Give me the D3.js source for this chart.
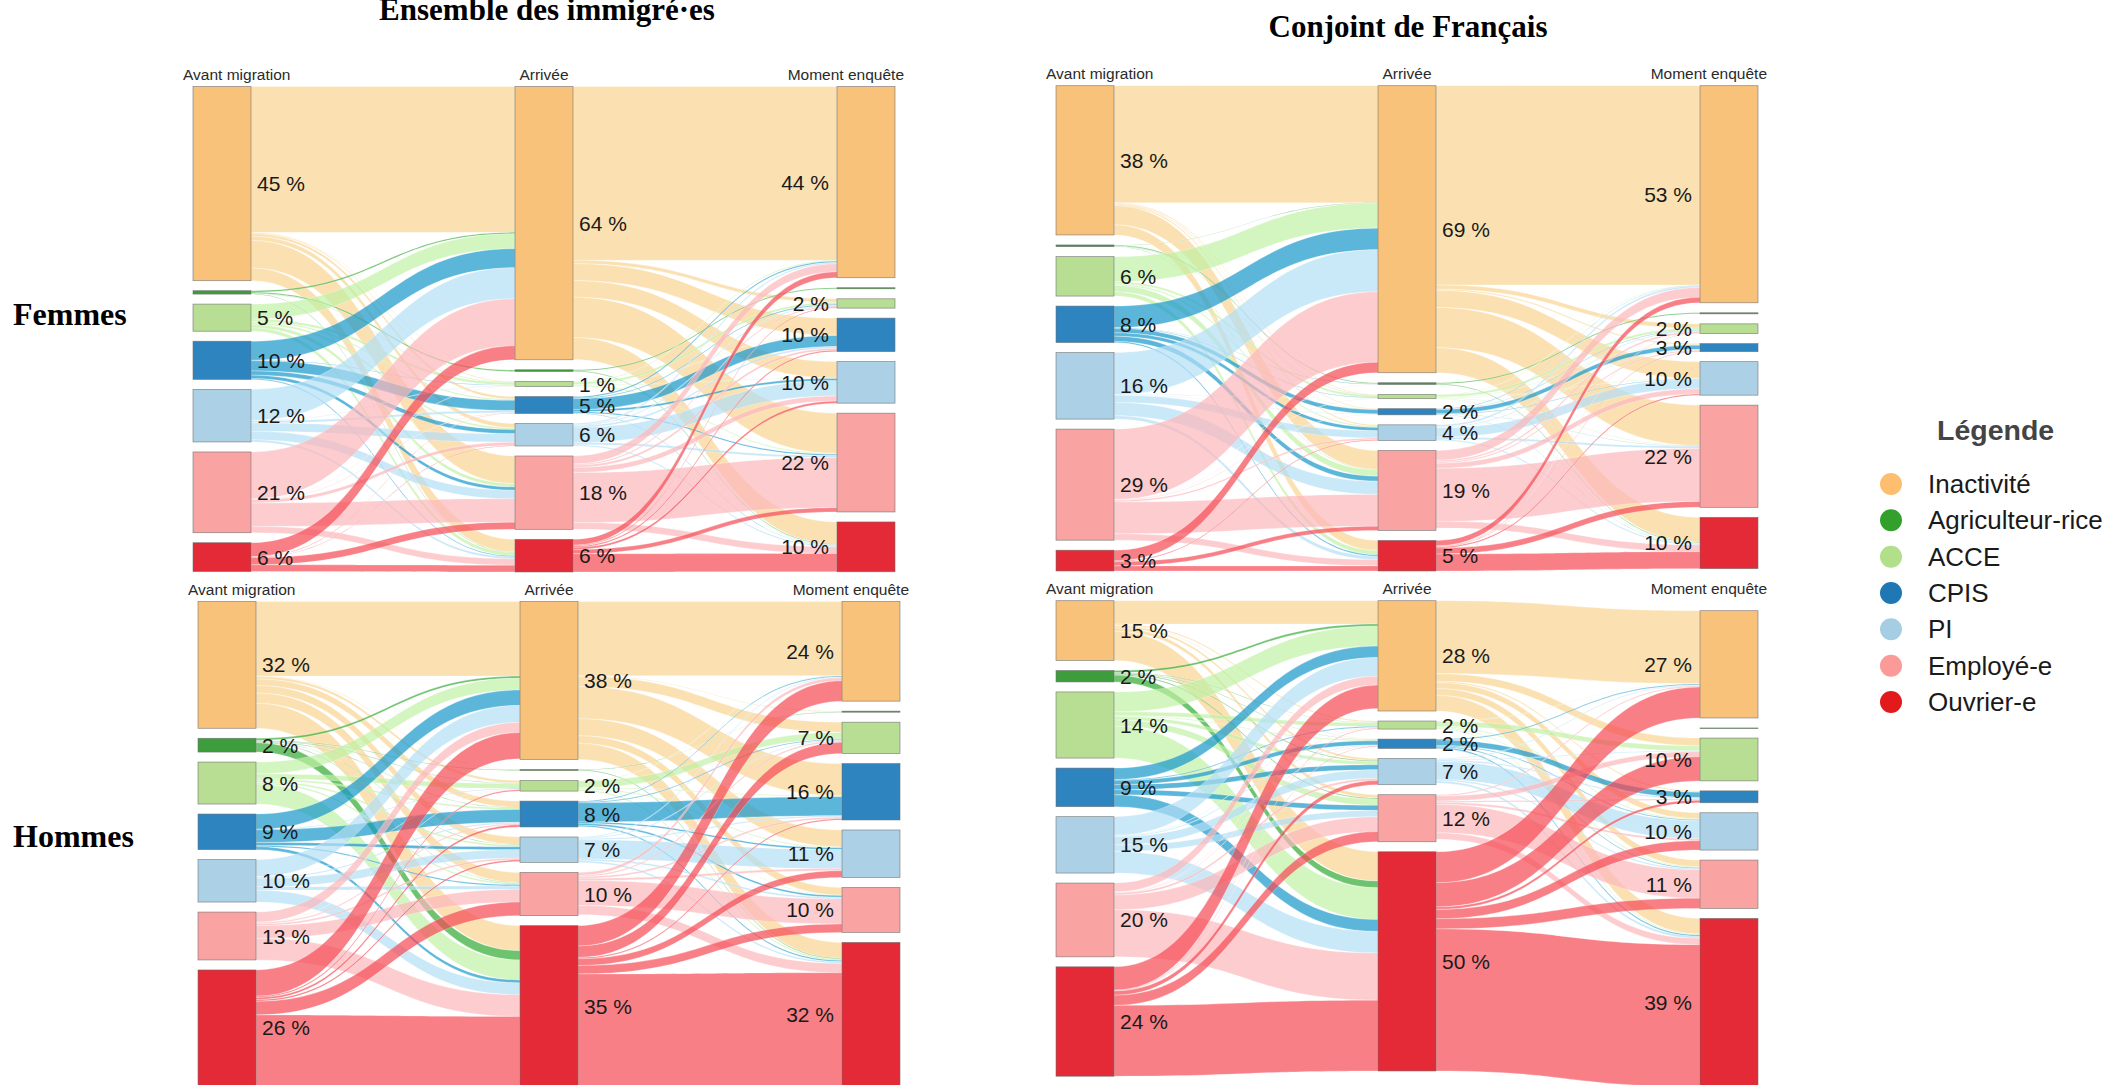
<!DOCTYPE html>
<html><head><meta charset="utf-8">
<script src="https://cdn.jsdelivr.net/npm/d3@7"></script>
<style>body{margin:0;background:#fff;overflow:hidden} svg{display:block}</style>
</head><body>
<svg id="chart" width="2116" height="1085"></svg>
<script>
// ---------------- DATA ----------------
const categories = ["Inactivité","Agriculteur-rice","ACCE","CPIS","PI","Employé-e","Ouvrier-e"];
const stageNames = ["Avant migration","Arrivée","Moment enquête"];
const groupTitles = ["Ensemble des immigré·es","Conjoint de Français"];
const rowTitles = ["Femmes","Hommes"];
const legendTitle = "Légende";

// flows in % : rows = source category, columns = target category
const ensembleFemmesAvantArrivee = [
  [34.4, 0.1, 0.2, 0.6, 1.0, 6.5, 3.0],
  [0.35, 0.3, 0.05, 0, 0, 0, 0.1],
  [3.5, 0, 0.6, 0.3, 0.4, 0.8, 0.8],
  [4.5, 0, 0.1, 2.4, 1.0, 0.8, 0.2],
  [7.3, 0, 0.1, 0.5, 2.0, 2.0, 0.5],
  [11.1, 0, 0.05, 0.1, 0.8, 5.5, 1.5],
  [3.3, 0, 0, 0.1, 0.1, 1.7, 1.6]
];
const ensembleFemmesArriveeEnquete = [
  [41.0, 0, 0.8, 4.0, 3.9, 9.5, 5.2],
  [0, 0.25, 0, 0, 0, 0, 0.15],
  [0.2, 0, 0.5, 0.1, 0.1, 0.2, 0.1],
  [0.3, 0, 0.2, 2.6, 0.5, 0.3, 0.1],
  [0.3, 0, 0.2, 0.4, 3.6, 0.5, 0.3],
  [1.9, 0, 0.3, 0.5, 1.2, 11.8, 1.6],
  [1.4, 0, 0.2, 0.3, 0.5, 1.0, 4.3]
];
const ensembleFemmesLabels = [
  ["45 %","","5 %","10 %","12 %","21 %","6 %"],
  ["64 %","","1 %","5 %","6 %","18 %","6 %"],
  ["44 %","","2 %","10 %","10 %","22 %","10 %"]
];

const conjointFemmesAvantArrivee = [
  [27.6, 0.05, 0.2, 0.15, 0.3, 4.5, 2.4],
  [0.1, 0.2, 0.05, 0, 0, 0.05, 0],
  [5.9, 0, 0.5, 0.1, 0.3, 1.5, 1.0],
  [5.1, 0.1, 0.1, 1.0, 0.8, 1.2, 0.3],
  [9.9, 0, 0.1, 0.1, 1.7, 3.1, 0.8],
  [16.6, 0.05, 0.05, 0.1, 0.4, 7.5, 1.5],
  [2.5, 0, 0, 0, 0.2, 1.0, 1.2]
];
const conjointFemmesArriveeEnquete = [
  [47.0, 0, 1.0, 0.3, 4.0, 9.5, 5.9],
  [0, 0.25, 0, 0, 0, 0, 0.15],
  [0.1, 0, 0.5, 0.1, 0.1, 0.1, 0.1],
  [0.1, 0, 0.1, 1.0, 0.1, 0.1, 0.05],
  [0.4, 0, 0.2, 0.1, 2.2, 0.5, 0.3],
  [2.3, 0, 0.4, 0.3, 1.2, 12.5, 1.6],
  [1.3, 0, 0.1, 0.1, 0.3, 1.4, 4.0]
];
const conjointFemmesLabels = [
  ["38 %","","6 %","8 %","16 %","29 %","3 %"],
  ["69 %","","","2 %","4 %","19 %","5 %"],
  ["53 %","","2 %","3 %","10 %","22 %","10 %"]
];

const ensembleHommesAvantArrivee = [
  [17.6, 0.1, 0.6, 1.5, 1.8, 2.4, 5.9],
  [0.5, 0.15, 0.1, 0.1, 0.1, 0.1, 2.2],
  [2.8, 0, 1.2, 0.4, 0.4, 0.4, 4.7],
  [3.6, 0, 0.1, 3.0, 0.7, 0.3, 0.7],
  [4.0, 0, 0.1, 0.3, 2.0, 0.8, 2.8],
  [2.4, 0, 0.1, 0.3, 0.4, 3.0, 5.1],
  [6.2, 0, 0.3, 0.5, 0.4, 3.2, 16.7]
];
const ensembleHommesArriveeEnquete = [
  [17.5, 0.15, 2.4, 7.6, 4.0, 1.8, 3.8],
  [0, 0.1, 0, 0, 0, 0, 0.15],
  [0.1, 0, 1.6, 0.2, 0.2, 0.1, 0.3],
  [0.2, 0, 0.2, 4.5, 0.4, 0.4, 0.3],
  [0.2, 0, 0.2, 0.3, 4.5, 0.4, 0.4],
  [0.7, 0, 0.3, 0.4, 0.5, 5.9, 2.2],
  [4.8, 0, 2.7, 0.3, 1.6, 2.0, 26.7]
];
const ensembleHommesLabels = [
  ["32 %","2 %","8 %","9 %","10 %","13 %","26 %"],
  ["38 %","","2 %","8 %","7 %","10 %","35 %"],
  ["24 %","","7 %","16 %","11 %","10 %","32 %"]
];

const conjointHommesAvantArrivee = [
  [5.5, 0, 0.3, 0.1, 0.5, 0.8, 6.9],
  [0.5, 0, 0.1, 0.1, 0.2, 0.2, 1.6],
  [4.7, 0, 0.9, 0.2, 0.8, 1.5, 7.5],
  [2.7, 0, 0.2, 1.0, 1.2, 1.2, 2.8],
  [4.4, 0, 0.1, 0.2, 2.0, 1.5, 5.1],
  [2.1, 0, 0.1, 0.1, 0.5, 3.5, 11.1],
  [5.5, 0, 0.1, 0.1, 1.0, 2.4, 16.7]
];
const conjointHommesArriveeEnquete = [
  [17.2, 0.02, 1.8, 0.3, 1.4, 1.6, 3.7],
  [0, 0, 0, 0, 0, 0, 0],
  [0.1, 0, 1.2, 0, 0.2, 0.2, 0.2],
  [0.2, 0, 0, 1.3, 0.2, 0.2, 0.3],
  [0.2, 0, 0.2, 0.3, 4.3, 0.3, 0.5],
  [0.3, 0, 1.2, 0.3, 0.5, 6.7, 1.5],
  [7.3, 0, 5.7, 0.6, 2.2, 2.4, 33.5]
];
const conjointHommesLabels = [
  ["15 %","2 %","14 %","9 %","15 %","20 %","24 %"],
  ["28 %","","2 %","2 %","7 %","12 %","50 %"],
  ["27 %","","10 %","3 %","10 %","11 %","39 %"]
];

// ---------------- STYLE ----------------
const nodeColors = ["#f9c27b","#3d9d3d","#b8de94","#2e84bf","#acd1e6","#f9a3a3","#e32a36"];
const linkColors = ["rgb(249,212,146)","rgb(49,169,49)","rgb(192,241,164)","rgb(21,151,202)","rgb(178,222,245)","rgb(252,182,186)","rgb(245,72,82)"];
const legendColors = ["#fdbf6f","#33a02c","#b2df8a","#1f78b4","#a6cee3","#fb9a99","#e31a1c"];

const panels = [
  {flows:[ensembleFemmesAvantArrivee, ensembleFemmesArriveeEnquete], labels:ensembleFemmesLabels, x0:193, y0:86.5, offsets:[0,0,0]},
  {flows:[conjointFemmesAvantArrivee, conjointFemmesArriveeEnquete], labels:conjointFemmesLabels, x0:1056, y0:85.7, offsets:[0,0,0]},
  {flows:[ensembleHommesAvantArrivee, ensembleHommesArriveeEnquete], labels:ensembleHommesLabels, x0:198, y0:601.5, offsets:[0,0,0]},
  {flows:[conjointHommesAvantArrivee, conjointHommesArriveeEnquete], labels:conjointHommesLabels, x0:1056, y0:600.7, offsets:[0,0,10]}
];

const svg = d3.select("#chart");
const NODE_W = 58, PAD = 10, SPAN = 644;
const hScale = d3.scaleLinear().domain([0,100]).range([0,424]);
const sansFont = "'Liberation Sans', Arial, Helvetica, sans-serif";
const serifFont = "'Liberation Serif', 'Times New Roman', serif";

function linkArea(x0, y0a, y0b, x1, y1a, y1b) {
  const xm = (x0 + x1) / 2;
  const p = d3.path();
  p.moveTo(x0, y0a);
  p.bezierCurveTo(xm, y0a, xm, y1a, x1, y1a);
  p.lineTo(x1, y1b);
  p.bezierCurveTo(xm, y1b, xm, y0b, x0, y0b);
  p.closePath();
  return p.toString();
}

function drawPanel(cfg) {
  const g = svg.append("g");
  const xScale = d3.scaleLinear().domain([0,2]).range([cfg.x0, cfg.x0 + SPAN]);
  const n = categories.length;
  const nodes = [0,1,2].map(c => categories.map((name, i) => {
    const inSum = c > 0 ? d3.sum(cfg.flows[c-1], row => row[i]) : 0;
    const outSum = c < 2 ? d3.sum(cfg.flows[c][i]) : 0;
    return {c, i, value: Math.max(inSum, outSum)};
  }));
  nodes.forEach((col, c) => {
    let y = cfg.y0 + cfg.offsets[c];
    col.forEach(nd => {
      nd.x0 = xScale(c); nd.x1 = nd.x0 + NODE_W;
      if (nd.value > 0) {
        nd.y0 = y; nd.y1 = y + hScale(nd.value); y = nd.y1 + PAD;
      } else { nd.y0 = nd.y1 = y; nd.skip = true; }
    });
  });
  const links = [];
  [0,1].forEach(s => {
    const M = cfg.flows[s];
    const srcOff = nodes[s].map(nd => nd.y0);
    const tgtOff = nodes[s+1].map(nd => nd.y0);
    for (let i = 0; i < n; i++) {
      for (let j = 0; j < n; j++) {
        const v = M[i][j];
        if (v > 0) links.push({s, i, j, v});
      }
    }
    links.filter(l => l.s === s).sort((a,b)=> a.i - b.i || a.j - b.j).forEach(l => {
      l.sy0 = srcOff[l.i]; l.sy1 = l.sy0 + hScale(l.v); srcOff[l.i] = l.sy1;
    });
    links.filter(l => l.s === s).sort((a,b)=> a.j - b.j || a.i - b.i).forEach(l => {
      l.ty0 = tgtOff[l.j]; l.ty1 = l.ty0 + hScale(l.v); tgtOff[l.j] = l.ty1;
    });
  });
  g.append("g").selectAll("path").data(links).join("path")
    .attr("d", l => linkArea(nodes[l.s][l.i].x1, l.sy0, l.sy1, nodes[l.s+1][l.j].x0, l.ty0, l.ty1))
    .attr("fill", l => linkColors[l.i])
    .attr("fill-opacity", 0.7)
    .attr("stroke", "#fff")
    .attr("stroke-opacity", 0.55)
    .attr("stroke-width", 0.5);
  const allNodes = nodes.flat().filter(nd => !nd.skip);
  g.append("g").selectAll("rect").data(allNodes).join("rect")
    .attr("x", d => d.x0).attr("y", d => d.y0)
    .attr("width", NODE_W).attr("height", d => Math.max(0.6, d.y1 - d.y0))
    .attr("fill", d => nodeColors[d.i])
    .attr("stroke", "#6e6e6e").attr("stroke-opacity", 0.8).attr("stroke-width", 0.7);
  g.append("g").selectAll("text").data(allNodes.filter(d => cfg.labels[d.c][d.i]))
    .join("text")
    .attr("x", d => d.c < 2 ? d.x1 + 6 : d.x0 - 8)
    .attr("y", d => (d.y0 + d.y1) / 2)
    .attr("text-anchor", d => d.c < 2 ? "start" : "end")
    .attr("dominant-baseline", "central")
    .style("font-family", sansFont).style("font-size", "21px").attr("fill", "#1a1a1a")
    .text(d => cfg.labels[d.c][d.i]);
  const hy = cfg.y0 - 6.5;
  stageNames.forEach((name, c) => {
    const x = c === 0 ? xScale(0) - 10 : c === 1 ? xScale(1) + NODE_W / 2 : xScale(2) + NODE_W + 9;
    g.append("text").attr("x", x).attr("y", hy)
      .attr("text-anchor", c === 0 ? "start" : c === 1 ? "middle" : "end")
      .style("font-family", sansFont).style("font-size", "15.5px").attr("fill", "#2a2a2a")
      .text(name);
  });
}

panels.forEach(drawPanel);

// titles
svg.append("text").attr("x", 547).attr("y", 20).attr("text-anchor", "middle")
  .style("font-family", serifFont).style("font-weight", "bold").style("font-size", "31px")
  .text(groupTitles[0]);
svg.append("text").attr("x", 1408).attr("y", 37).attr("text-anchor", "middle")
  .style("font-family", serifFont).style("font-weight", "bold").style("font-size", "31px")
  .text(groupTitles[1]);
svg.append("text").attr("x", 13).attr("y", 325)
  .style("font-family", serifFont).style("font-weight", "bold").style("font-size", "32px")
  .text(rowTitles[0]);
svg.append("text").attr("x", 13).attr("y", 847)
  .style("font-family", serifFont).style("font-weight", "bold").style("font-size", "32px")
  .text(rowTitles[1]);

// legend
const lg = svg.append("g");
lg.append("text").attr("x", 1937).attr("y", 430).attr("dominant-baseline", "central")
  .style("font-family", sansFont).style("font-size", "28.5px").style("font-weight", "600").attr("fill", "#444")
  .text(legendTitle);
const ly = d3.scaleLinear().domain([0, categories.length - 1]).range([484, 702]);
categories.forEach((name, i) => {
  lg.append("circle").attr("cx", 1891).attr("cy", ly(i)).attr("r", 11).attr("fill", legendColors[i]);
  lg.append("text").attr("x", 1928).attr("y", ly(i)).attr("dominant-baseline", "central")
    .style("font-family", sansFont).style("font-size", "26px").attr("fill", "#1a1a1a")
    .text(name);
});
</script>
</body></html>
